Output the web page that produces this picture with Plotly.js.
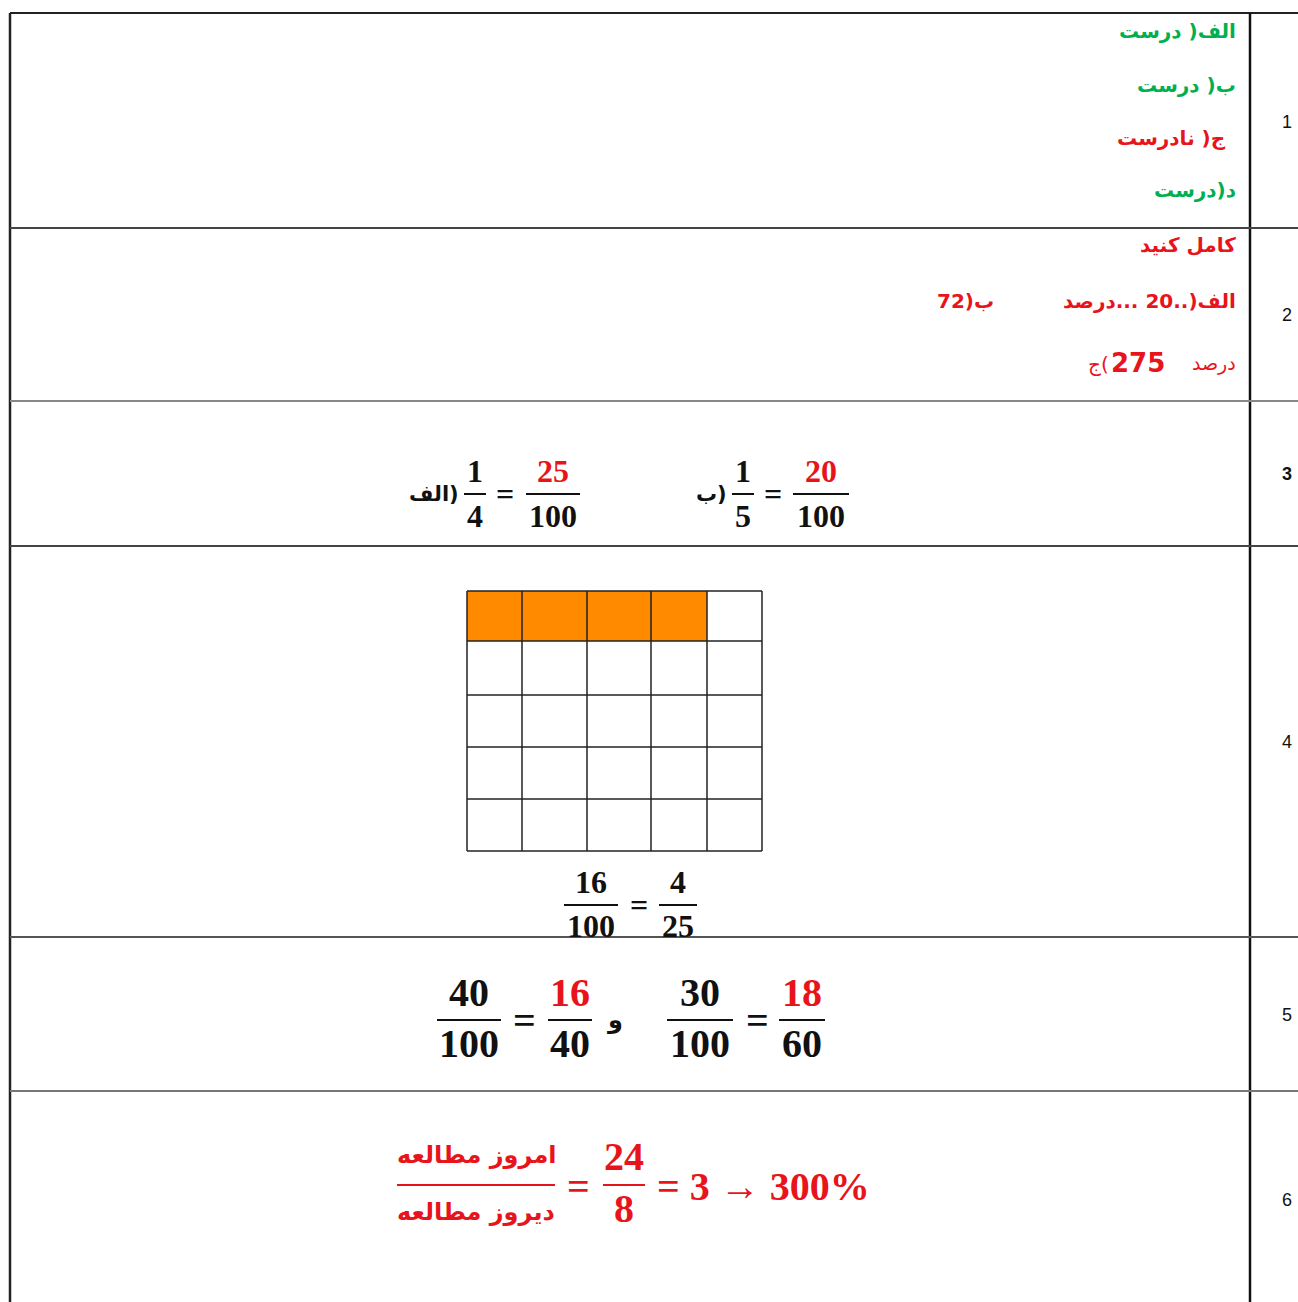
<!DOCTYPE html>
<html>
<head>
<meta charset="utf-8">
<script src="https://cdn.plot.ly/plotly-3.0.1.min.js"></script>
<style>
  html, body { margin: 0; padding: 0; background: #fff; }
  #sheet { width: 1298px; height: 1302px; }
</style>
</head>
<body>
<div id="sheet"></div>
<script>
// ---- content of the answer sheet ----
const rowNumbers = ['1', '2', '3', '4', '5', '6'];

// written inside a right-to-left run, so '(' shows as ')'
const q1Answers = ['الف( درست', 'ب( درست', 'ج( نادرست', 'د(درست'];
const q1Correct = [true, true, false, true];

const q2Title = 'کامل کنید';
const q2Parts = ['الف(..20 ...درصد', 'ب(72'];
const q2Last = ['درصد', '275', 'ج('];

const q3Labels = ['الف)', 'ب)'];
const q3Numerators = ['1', '25', '1', '20'];
const q3Denominators = ['4', '100', '5', '100'];

// 5x5 grid, 1 = shaded
const gridFilled = [
    [1, 1, 1, 1, 0],
    [0, 0, 0, 0, 0],
    [0, 0, 0, 0, 0],
    [0, 0, 0, 0, 0],
    [0, 0, 0, 0, 0]
];
const q4Numerators = ['16', '4'];
const q4Denominators = ['100', '25'];

const q5Numerators = ['40', '16', '30', '18'];
const q5Denominators = ['100', '40', '100', '60'];
const q5Joiner = 'و';

const q6Numerators = ['امروز مطالعه', '24'];
const q6Denominators = ['دیروز مطالعه', '8'];
const q6Result = '= 3 → 300%';

// ---- page geometry (pixels) ----
const W = 1298, H = 1302;
const LEFT = 10, TOP = 13, DIVIDER = 1250;
const rowLines = [228, 401, 546, 937, 1091];
const rowLineColors = ['#444', '#888', '#444', '#555', '#777'];
const rowNumY = [122, 315, 474, 742, 1015, 1200];
const gridX = [467, 522, 587, 651, 707, 762];
const gridY = [591, 641, 695, 747, 799, 851];

const RED = '#E8141B';
const GREEN = '#00B050';
const ORANGE = '#FF8A00';
const INK = '#111';
const AR = 'DejaVu Sans, sans-serif';
const SERIF = 'Liberation Serif, DejaVu Serif, serif';
const RLE = '\u202B', PDF = '\u202C';

const shapes = [];
const annotations = [];

function line(x0, y0, x1, y1, color, width) {
    shapes.push({type: 'line', xref: 'x', yref: 'y', x0: x0, y0: y0, x1: x1, y1: y1,
        line: {color: color, width: width}});
}

function label(x, y, text, opts) {
    annotations.push(Object.assign({
        x: x, y: y, xref: 'x', yref: 'y', text: text, showarrow: false,
        xanchor: 'center', yanchor: 'middle'
    }, opts));
}

function arabic(x, y, text, color, size, bold) {
    label(x, y, RLE + (bold ? '<b>' + text + '</b>' : text) + PDF, {
        xanchor: 'right', font: {family: AR, size: size, color: color}
    });
}

// one fraction: numerator above bar, denominator below
function fraction(cx, barY, halfBar, num, den, numColor, denColor, barColor, size, up, down, fam) {
    label(cx, barY - up, '<b>' + num + '</b>', {font: {family: fam || SERIF, size: size, color: numColor}});
    label(cx, barY + down, '<b>' + den + '</b>', {font: {family: fam || SERIF, size: size, color: denColor}});
    line(cx - halfBar, barY, cx + halfBar, barY, barColor, 2);
}

// ---- table frame ----
line(LEFT, TOP, W, TOP, '#222', 2);
line(LEFT, TOP, LEFT, H, '#222', 2.5);
line(DIVIDER, TOP, DIVIDER, H, INK, 2.5);
rowLines.forEach((y, i) => line(LEFT, y, W, y, rowLineColors[i], 2));

rowNumbers.forEach((n, i) => {
    label(1287, rowNumY[i], i === 2 ? '<b>' + n + '</b>' : n,
        {font: {family: 'Liberation Sans, Arial, sans-serif', size: 18, color: INK}});
});

// ---- question 1 ----
const q1Y = [31, 85, 138, 190];
const q1Right = [1238, 1238, 1228, 1238];
q1Answers.forEach((t, i) => arabic(q1Right[i], q1Y[i], t, q1Correct[i] ? GREEN : RED, 20, true));

// ---- question 2 ----
arabic(1238, 245, q2Title, RED, 20, true);
arabic(1238, 301, q2Parts[0], RED, 20, true);
arabic(996, 301, q2Parts[1], RED, 20, true);
arabic(1238, 363, q2Last[0], RED, 19, false);
label(1167, 363, '<b>' + q2Last[1] + '</b>', {xanchor: 'right', font: {family: AR, size: 26, color: RED}});
label(1111, 364, q2Last[2], {xanchor: 'right', font: {family: AR, size: 20, color: RED}});

// ---- question 3 ----
const q3X = [475, 553, 743, 821];
const q3Half = [11, 27, 11, 28];
const q3Bar = 494;
q3Numerators.forEach((n, i) => {
    fraction(q3X[i], q3Bar, q3Half[i], n, q3Denominators[i], i % 2 ? RED : INK, INK, INK, 32, 23, 22);
});
label(505, q3Bar, '<b>=</b>', {font: {family: SERIF, size: 32, color: INK}});
label(773, q3Bar, '<b>=</b>', {font: {family: SERIF, size: 32, color: INK}});
label(461, q3Bar, '<b>' + q3Labels[0] + '</b>', {xanchor: 'right', font: {family: AR, size: 21, color: INK}});
label(729, q3Bar, '<b>' + q3Labels[1] + '</b>', {xanchor: 'right', font: {family: AR, size: 21, color: INK}});

// ---- question 4 ----
const grid = {
    type: 'heatmap',
    x: gridX,
    y: gridY,
    z: gridFilled,
    colorscale: [[0, '#ffffff'], [1, ORANGE]],
    zmin: 0, zmax: 1,
    showscale: false,
    hoverinfo: 'skip'
};
gridX.forEach(x => line(x, gridY[0], x, gridY[gridY.length - 1], '#222', 1.5));
gridY.forEach(y => line(gridX[0], y, gridX[gridX.length - 1], y, '#222', 1.5));

const q4X = [591, 678];
const q4Half = [27, 19];
q4Numerators.forEach((n, i) => {
    fraction(q4X[i], 905, q4Half[i], n, q4Denominators[i], INK, INK, INK, 32, 23, 21);
});
label(639, 905, '<b>=</b>', {font: {family: SERIF, size: 32, color: INK}});

// ---- question 5 ----
const q5X = [469, 570, 700, 802];
const q5Half = [32, 22, 33, 23];
q5Numerators.forEach((n, i) => {
    fraction(q5X[i], 1020, q5Half[i], n, q5Denominators[i], i % 2 ? RED : INK, INK, INK, 40, 28, 23);
});
label(524, 1020, '<b>=</b>', {font: {family: SERIF, size: 40, color: INK}});
label(757, 1020, '<b>=</b>', {font: {family: SERIF, size: 40, color: INK}});
label(615, 1020, '<b>' + q5Joiner + '</b>', {font: {family: AR, size: 24, color: INK}});

// ---- question 6 ----
fraction(476, 1185, 79, q6Numerators[0], q6Denominators[0], RED, RED, RED, 24, 30, 27, AR);
fraction(624, 1185, 21, q6Numerators[1], q6Denominators[1], RED, RED, RED, 40, 29, 23);
label(578, 1186, '<b>=</b>', {font: {family: SERIF, size: 40, color: RED}});
label(655, 1186, '<b>' + q6Result + '</b>', {xanchor: 'left', font: {family: SERIF, size: 40, color: RED}});

const layout = {
    width: W,
    height: H,
    margin: {l: 0, r: 0, t: 0, b: 0},
    paper_bgcolor: '#ffffff',
    plot_bgcolor: '#ffffff',
    showlegend: false,
    xaxis: {range: [0, W], visible: false, fixedrange: true},
    yaxis: {range: [H, 0], visible: false, fixedrange: true},
    shapes: shapes,
    annotations: annotations
};

Plotly.newPlot('sheet', [grid], layout, {displayModeBar: false, staticPlot: true});
</script>
</body>
</html>
